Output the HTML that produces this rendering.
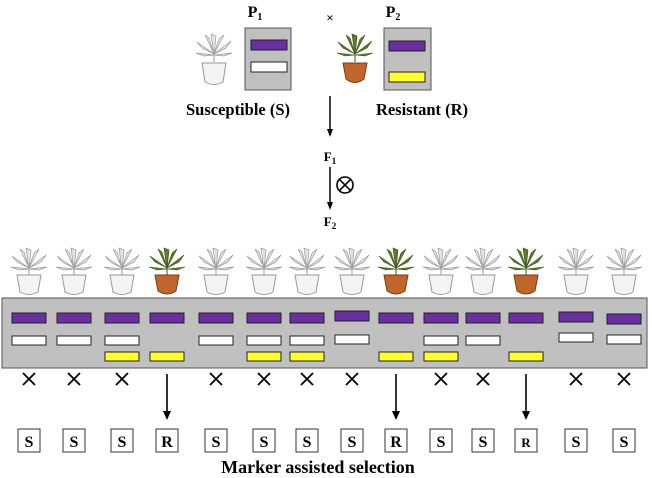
<!DOCTYPE html>
<html><head><meta charset="utf-8"><style>
html,body{margin:0;padding:0;background:#fff}
svg{display:block}
text{font-family:"Liberation Serif",serif;font-weight:bold}
</style></head><body>
<svg width="652" height="478" viewBox="0 0 652 478" xmlns="http://www.w3.org/2000/svg">
<defs>
<symbol id="leavesG" viewBox="-20 -20 40 32" overflow="visible">
 <g fill="#e4e4e4" stroke="#9a9a9a" stroke-width="0.7">
  <path d="M0 6 L-3 -16 L2 -14 Z"/>
  <path d="M0 4 L-17 -8 L-12 -2 Z"/>
  <path d="M0 4 L17 -9 L12 -2 Z"/>
  <path d="M0 5 L-18 3 L-10 6 Z"/>
  <path d="M0 5 L18 3 L10 6 Z"/>
  <path d="M0 4 L-9 -15 L-5 -12 Z"/>
  <path d="M0 4 L10 -15 L5 -11 Z"/>
 </g>
 <path d="M0 12 L0 2" stroke="#999" stroke-width="1"/>
</symbol>
<symbol id="leavesR" viewBox="-20 -20 40 32" overflow="visible">
 <g fill="#5c7a2c" stroke="#3b5218" stroke-width="0.6">
  <path d="M0 6 L-3 -16 L2 -14 Z"/>
  <path d="M0 4 L-17 -8 L-12 -2 Z"/>
  <path d="M0 4 L17 -9 L12 -2 Z"/>
  <path d="M0 5 L-18 3 L-10 6 Z"/>
  <path d="M0 5 L18 3 L10 6 Z"/>
  <path d="M0 4 L-9 -15 L-5 -12 Z"/>
  <path d="M0 4 L10 -15 L5 -11 Z"/>
 </g>
 <path d="M0 12 L0 2" stroke="#3b5218" stroke-width="1"/>
</symbol>
</defs>

<text x="255" y="17" font-size="16" text-anchor="middle">P<tspan font-size="10" dy="3">1</tspan></text>
<text x="393" y="17" font-size="16" text-anchor="middle">P<tspan font-size="10" dy="3">2</tspan></text>
<text x="330" y="22" font-size="13" text-anchor="middle" font-family="Liberation Sans">×</text>

<use href="#leavesG" x="194" y="30" width="40" height="32"/>
<path d="M202 63 L226 63 L223 82 Q214 87 205 82 Z" fill="#f4f4f4" stroke="#999"/>
<use href="#leavesR" x="335" y="30" width="40" height="32"/>
<path d="M343 63 L367 63 L364 79 Q355 86 346 79 Z" fill="#c0652c" stroke="#7a3a14"/>

<rect x="245" y="28" width="46" height="62" fill="#c0c0c0" stroke="#555"/>
<rect x="251" y="40" width="36" height="10" fill="#6a2fa0" stroke="#222"/>
<rect x="251" y="62" width="36" height="10" fill="#fff" stroke="#222"/>
<rect x="384" y="28" width="47" height="62" fill="#c0c0c0" stroke="#555"/>
<rect x="389" y="41" width="36" height="10" fill="#6a2fa0" stroke="#222"/>
<rect x="389" y="72" width="36" height="10" fill="#ffff33" stroke="#222"/>

<text x="238" y="115" font-size="16.5" text-anchor="middle">Susceptible (S)</text>
<text x="422" y="115" font-size="16.5" text-anchor="middle">Resistant (R)</text>

<line x1="330" y1="96" x2="330" y2="131" stroke="#000" stroke-width="1.5"/>
<path d="M327 129 L330 137 L333 129 Z" fill="#000"/>
<text x="330" y="161" font-size="13" text-anchor="middle" font-family="Liberation Sans">F<tspan font-size="9" dy="3">1</tspan></text>
<line x1="330" y1="167" x2="330" y2="204" stroke="#000" stroke-width="1.5"/>
<path d="M327 202 L330 210 L333 202 Z" fill="#000"/>
<circle cx="345" cy="185" r="8" fill="none" stroke="#000" stroke-width="1.6"/>
<path d="M339.3 179.3 L350.7 190.7 M350.7 179.3 L339.3 190.7" stroke="#000" stroke-width="1.6"/>
<text x="330" y="226" font-size="13" text-anchor="middle" font-family="Liberation Sans">F<tspan font-size="9" dy="3">2</tspan></text>

<rect x="2" y="298" width="645" height="70" fill="#c0c0c0" stroke="#555"/>

<g id="cols"></g>
<text x="318" y="473" font-size="18" text-anchor="middle">Marker assisted selection</text>
</svg>
<script>
(function(){
var ns="http://www.w3.org/2000/svg",g=document.getElementById('cols');
var cols=[[12,'PW'],[57,'PW'],[105,'PWY'],[150,'PY'],[199,'PW'],[247,'PWY'],[290,'PWY'],[335,'PW',-2,-1],[379,'PY'],[424,'PWY'],[466,'PW'],[509,'PY'],[559,'PW',-1,-3],[607,'PW',1,-1]];
function el(t,a){var e=document.createElementNS(ns,t);for(var k in a)e.setAttribute(k,a[k]);g.appendChild(e);return e;}
cols.forEach(function(c){
 var x=c[0],b=c[1],cx=x+17,R=b.indexOf('Y')>=0&&b.indexOf('W')<0;
 var dp=c[2]||0,dw=c[3]||0;
 el('use',{href:R?'#leavesR':'#leavesG',x:cx-20,y:244,width:40,height:32});
 if(R) el('path',{d:'M'+(cx-12)+' 275 L'+(cx+12)+' 275 L'+(cx+9)+' 291 Q'+cx+' 297 '+(cx-9)+' 291 Z',fill:'#c0652c',stroke:'#7a3a14'});
 else el('path',{d:'M'+(cx-12)+' 275 L'+(cx+12)+' 275 L'+(cx+9)+' 292 Q'+cx+' 297 '+(cx-9)+' 292 Z',fill:'#f4f4f4',stroke:'#999'});
 el('rect',{x:x,y:313+dp,width:34,height:10,fill:'#6a2fa0',stroke:'#222'});
 if(b.indexOf('W')>=0) el('rect',{x:x,y:336+dw,width:34,height:9,fill:'#fff',stroke:'#222'});
 if(b.indexOf('Y')>=0) el('rect',{x:x,y:352,width:34,height:9,fill:'#ffff33',stroke:'#222'});
 if(R){
  el('line',{x1:cx,y1:374,x2:cx,y2:413,stroke:'#000','stroke-width':1.6});
  el('path',{d:'M'+(cx-4)+' 411 L'+cx+' 420 L'+(cx+4)+' 411 Z',fill:'#000'});
 } else {
  el('path',{d:'M'+(cx-6)+' 373 L'+(cx+6)+' 385 M'+(cx+6)+' 373 L'+(cx-6)+' 385',stroke:'#000','stroke-width':1.8});
 }
 el('rect',{x:cx-11,y:429,width:22,height:23,fill:'#fff',stroke:'#333'});
 var t=el('text',{x:cx,y:447,'font-size':(x==509?13:16),'text-anchor':'middle'});
 t.textContent=R?'R':'S';
});
})();
</script>
</body></html>
